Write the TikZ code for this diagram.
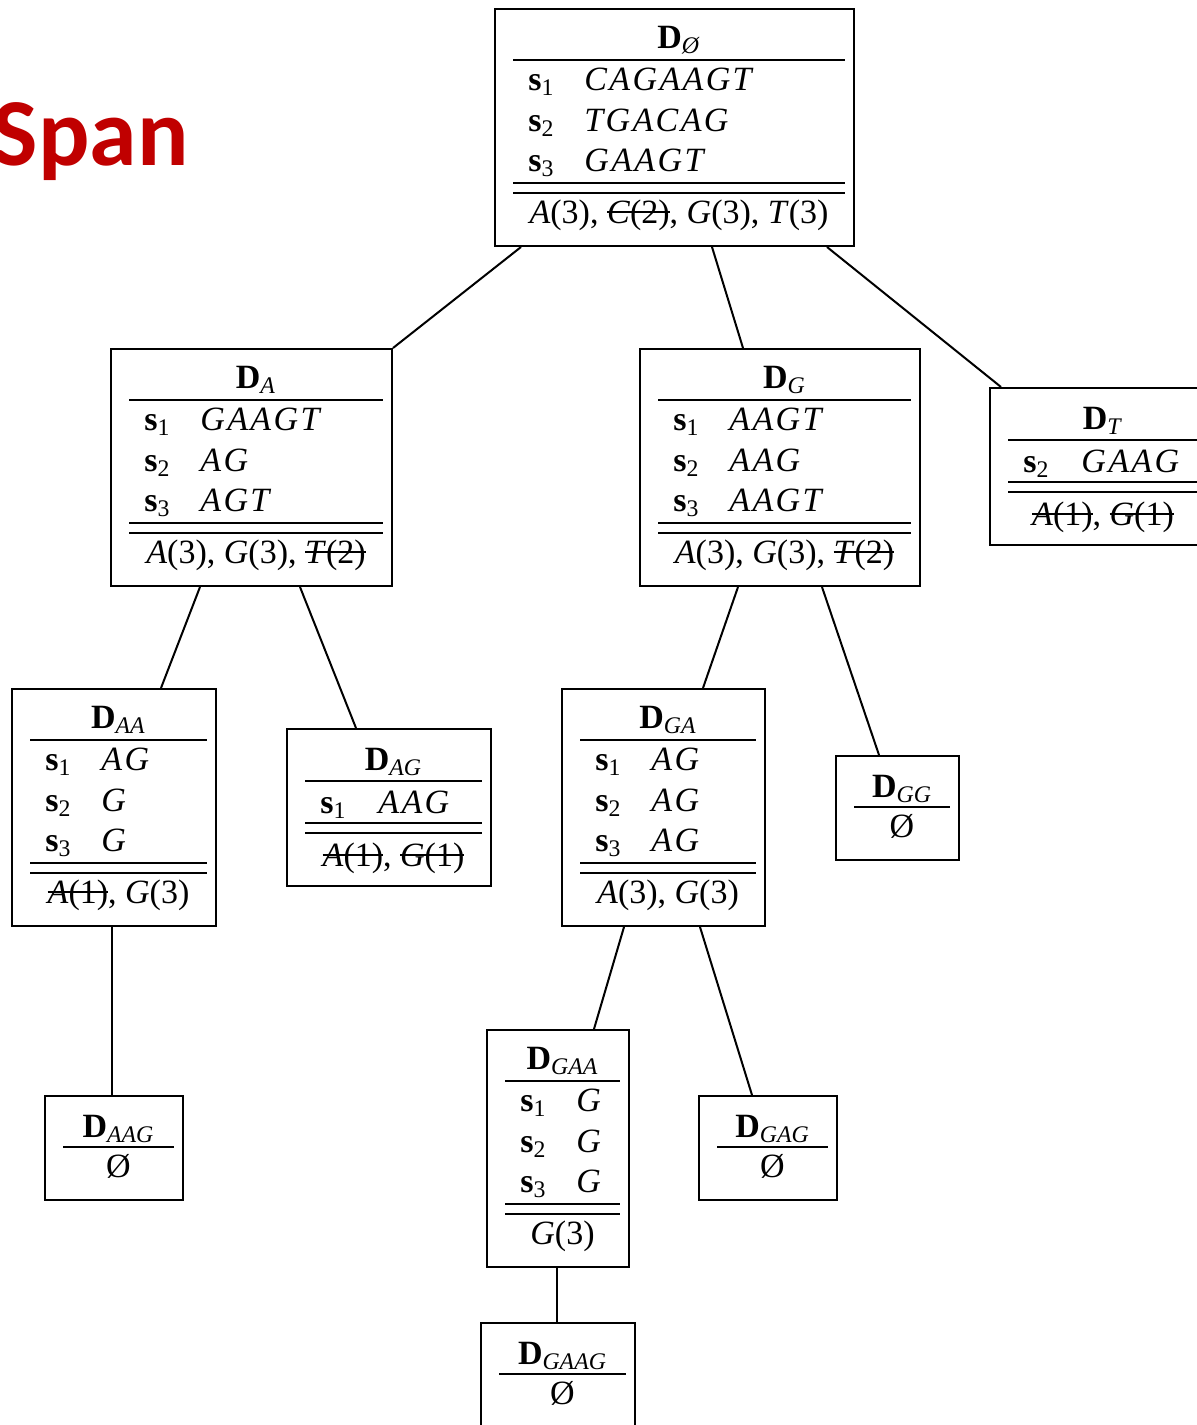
\documentclass[tikz,border=0pt]{standalone}
\usepackage{fontspec}
\setmainfont{Liberation Serif}
\newfontfamily\myseqf{Liberation Serif}[LetterSpace=7]
\newfontfamily\myspanf{Carlito}
\usetikzlibrary{fit,calc}
\definecolor{spanred}{HTML}{C00000}
\newsavebox\mystkbox
\newcommand\mystk[1]{\sbox\mystkbox{#1}\rlap{\rule[0.3em]{\wd\mystkbox}{0.06em}}\usebox\mystkbox}
\newcommand\myttl[1]{\textbf{D}\textsubscript{\textit{#1}}}
\newcommand\myslab[1]{\textbf{s}\textsubscript{#1}}
\newcommand\mysq[1]{{\myseqf\itshape #1}}
\newcommand\mycnt[2]{\textit{#1}(#2)}
\tikzset{
  box/.style={draw, line width=1pt, inner sep=0pt},
  txt/.style={inner sep=0pt, font=\fontsize{17}{20}\selectfont},
  rl/.style={line width=1pt},
  edge/.style={line width=1pt}
}
% full box with three rows
\newcommand\myfullbox[9]{%
\node[box, fit={(#2,#3) (#4,#3+237)}] (#1) {};
\node[txt, anchor=base] (#1-t) at ({(#2+#4+9)/2},#3+39) {\myttl{#5}};
\draw[rl] (#2+18,#3+51) -- (#4-9,#3+51);
\node[txt, anchor=base west] (#1-a) at (#2+33,#3+81) {\myslab{1}};
\node[txt, anchor=base west] (#1-b) at (#2+33,#3+122) {\myslab{2}};
\node[txt, anchor=base west] (#1-c) at (#2+33,#3+162) {\myslab{3}};
\node[txt, anchor=base west] (#1-d) at (#2+89,#3+81) {\mysq{#6}};
\node[txt, anchor=base west] (#1-e) at (#2+89,#3+122) {\mysq{#7}};
\node[txt, anchor=base west] (#1-f) at (#2+89,#3+162) {\mysq{#8}};
\draw[rl] (#2+18,#3+174) -- (#4-9,#3+174);
\draw[rl] (#2+18,#3+184) -- (#4-9,#3+184);
\node[txt, anchor=base] (#1-g) at ({(#2+#4+9)/2},#3+214) {#9};
}
% box with one row
\newcommand\myonebox[8]{%
\node[box, fit={(#2,#3) (#4,#3+157)}] (#1) {};
\node[txt, anchor=base] (#1-t) at ({(#2+#4+9)/2},#3+41) {\myttl{#5}};
\draw[rl] (#2+18,#3+52) -- (#4-9,#3+52);
\node[txt, anchor=base west] (#1-a) at (#2+33,#3+84) {\myslab{#6}};
\node[txt, anchor=base west] (#1-d) at (#2+91,#3+84) {\mysq{#7}};
\draw[rl] (#2+18,#3+94) -- (#4-9,#3+94);
\draw[rl] (#2+18,#3+104) -- (#4-9,#3+104);
\node[txt, anchor=base] (#1-g) at ({(#2+#4+9)/2},#3+137) {#8};
}
% empty-set box
\newcommand\myebox[5]{%
\node[box, fit={(#2,#3) (#4,#3+104)}] (#1) {};
\node[txt, anchor=base] (#1-t) at ({(#2+#4+9)/2},#3+41) {\myttl{#5}};
\draw[rl] (#2+18,#3+51) -- (#4-9,#3+51);
\node[txt, anchor=base] (#1-g) at ({(#2+#4+9)/2},#3+81) {Ø};
}
\begin{document}
\begin{tikzpicture}[x=0.5pt,y=-0.5pt]
\path[use as bounding box] (0,0) rectangle (1197,1425);
\clip (0,0) rectangle (1197,1425);
\node[anchor=base east, inner sep=0pt, text=spanred, font=\myspanf\bfseries\fontsize{48}{56}\selectfont] (span) at (189,165) {Span};

\myfullbox{root}{495}{9}{854}{Ø}{CAGAAGT}{TGACAG}{GAAGT}{\mycnt{A}{3}, \mystk{\mycnt{C}{2}}, \mycnt{G}{3}, \mycnt{T}{3}}
\myfullbox{nA}{111}{349}{392}{A}{GAAGT}{AG}{AGT}{\mycnt{A}{3}, \mycnt{G}{3}, \mystk{\mycnt{T}{2}}}
\myfullbox{nG}{640}{349}{920}{G}{AAGT}{AAG}{AAGT}{\mycnt{A}{3}, \mycnt{G}{3}, \mystk{\mycnt{T}{2}}}
\myonebox{nT}{990}{388}{1207}{T}{2}{GAAG}{\mystk{\mycnt{A}{1}}, \mystk{\mycnt{G}{1}}}
\myfullbox{nAA}{12}{689}{216}{AA}{AG}{G}{G}{\mystk{\mycnt{A}{1}}, \mycnt{G}{3}}
\myonebox{nAG}{287}{729}{491}{AG}{1}{AAG}{\mystk{\mycnt{A}{1}}, \mystk{\mycnt{G}{1}}}
\myfullbox{nGA}{562}{689}{765}{GA}{AG}{AG}{AG}{\mycnt{A}{3}, \mycnt{G}{3}}
\myebox{nGG}{836}{756}{959}{GG}
\myebox{nAAG}{45}{1096}{183}{AAG}
\myfullbox{nGAA}{487}{1030}{629}{GAA}{G}{G}{G}{\mycnt{G}{3}}
\myebox{nGAG}{699}{1096}{837}{GAG}
\myebox{nGAAG}{481}{1323}{635}{GAAG}

\draw[edge] ($(root.south west)+(27,0)$) -- (nA.north east);
\draw[edge] ($(root.south west)+(218,0)$) -- ($(nG.north west)+(104,0)$);
\draw[edge] ($(root.south west)+(333,0)$) -- ($(nT.north west)+(12,0)$);
\draw[edge] ($(nA.south west)+(90,0)$) -- ($(nAA.north west)+(150,0)$);
\draw[edge] ($(nA.south west)+(190,0)$) -- ($(nAG.north west)+(70,0)$);
\draw[edge] ($(nG.south west)+(99,0)$) -- ($(nGA.north west)+(142,0)$);
\draw[edge] ($(nG.south west)+(183,0)$) -- ($(nGG.north west)+(44,0)$);
\draw[edge] ($(nAA.south west)+(101,0)$) -- ($(nAAG.north west)+(68,0)$);
\draw[edge] ($(nGA.south west)+(63,0)$) -- ($(nGAA.north west)+(108,0)$);
\draw[edge] ($(nGA.south west)+(139,0)$) -- ($(nGAG.north west)+(54,0)$);
\draw[edge] ($(nGAA.south west)+(71,0)$) -- ($(nGAAG.north west)+(77,0)$);
\end{tikzpicture}
\end{document}
